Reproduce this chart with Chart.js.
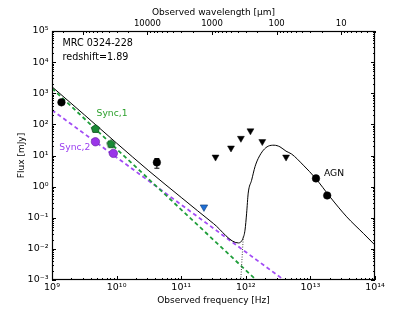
<!DOCTYPE html>
<html><head><meta charset="utf-8">
<script src="https://cdn.jsdelivr.net/npm/chart.js@4/dist/chart.umd.min.js"></script>
<style>html,body{margin:0;padding:0;background:#fff}</style>
</head><body>
<canvas id="c" width="416" height="312" style="width:416px;height:312px;display:block"></canvas>
<script>
// ---- data ----
const xTickValues = [1e9, 1e10, 1e11, 1e12, 1e13, 1e14];
const yTickValues = [1e-3, 1e-2, 1e-1, 1e0, 1e1, 1e2, 1e3, 1e4, 1e5];
const wavelengthTicks = [10000, 1000, 100, 10];
const C_UM_HZ = 2.998e14;

const totalFreq = [1e9, 3.16e9, 1e10, 3.16e10, 1e11, 3.16e11, 7.66e11, 9.06e11, 9.72e11, 1.03e12, 1.09e12, 1.23e12, 1.39e12, 1.56e12, 1.87e12, 2.23e12, 2.74e12, 3.38e12, 4.19e12, 5.13e12, 7.76e12, 1.21e13, 2.01e13, 3.65e13, 6.59e13, 1e14];
const totalFlux = [1620, 204, 25, 3.2, 0.45, 0.065, 0.0155, 0.022, 0.040, 0.14, 0.62, 1.6, 4.4, 8.1, 14.8, 20, 21.4, 19, 13.8, 11.1, 4.9, 1.82, 0.47, 0.107, 0.0316, 0.0132];
const sync1Freq = [1e9, 1.45e12];
const sync1Flux = [1445, 1e-3];
const sync2Freq = [1e9, 3.9e12];
const sync2Flux = [288, 1e-3];
const agnTailFreq = [8.36e11, 9.16e11];
const agnTailFlux = [1e-3, 0.0257];

const blackFreq = [1.4e9, 4.2e10, 1.22e13, 1.82e13];
const blackFlux = [510, 6.0, 1.84, 0.52];
const errFreq = [4.2e10, 4.2e10];
const errFlux = [3.9, 8.0];
const sync1PtsFreq = [4.7e9, 8.2e9];
const sync1PtsFlux = [74, 24];
const sync2PtsFreq = [4.7e9, 8.9e9];
const sync2PtsFlux = [27.6, 11.7];
const blueLimFreq = [2.25e11];
const blueLimFlux = [0.22];
const limitFreq = [3.4e11, 5.9e11, 8.4e11, 1.18e12, 1.8e12, 4.2e12];
const limitFlux = [8.9, 17.4, 35.6, 62, 28, 8.9];

const GREEN = '#1f9e3a', GREEN_PT = '#1a8a36', PURPLE = '#a24cf5', PURPLE_PT = '#9a35e8';
const FONT = '"DejaVu Sans", sans-serif';
Chart.defaults.font.family = FONT;

const pts = (xs, ys) => xs.map((v, i) => ({x: v, y: ys[i]}));
const SUP = {'0':'⁰','1':'¹','2':'²','3':'³','4':'⁴','5':'⁵','6':'⁶','7':'⁷','8':'⁸','9':'⁹','-':'⁻'};
const pow10Label = v => '10' + String(Math.round(Math.log10(v))).split('').map(c => SUP[c]).join('');

// pentagon marker
const pent = document.createElement('canvas');
pent.width = 11; pent.height = 11;
(() => {
  const g = pent.getContext('2d');
  g.beginPath();
  for (let i = 0; i < 5; i++) {
    const a = -Math.PI / 2 + i * 2 * Math.PI / 5;
    const px = 5.5 + 4.4 * Math.cos(a), py = 5.9 + 4.4 * Math.sin(a);
    i ? g.lineTo(px, py) : g.moveTo(px, py);
  }
  g.closePath();
  g.fillStyle = GREEN_PT; g.fill();
  g.strokeStyle = '#0c4a1c'; g.lineWidth = 0.8; g.stroke();
})();

const frameTicks = {
  id: 'frameTicks',
  afterDraw(chart) {
    const {ctx, chartArea: a, scales: {x, y}} = chart;
    ctx.save();
    ctx.strokeStyle = '#000';
    ctx.lineWidth = 1;
    const seg = (x1, y1, x2, y2) => { ctx.beginPath(); ctx.moveTo(x1, y1); ctx.lineTo(x2, y2); ctx.stroke(); };
    for (let d = 9; d <= 14; d++) for (let m = 1; m <= 9; m++) {
      const v = m * Math.pow(10, d);
      if (v < 1e9 || v > 1e14) continue;
      const px = Math.round(x.getPixelForValue(v)) + 0.5;
      seg(px, a.bottom, px, a.bottom - (m === 1 ? 4 : 2));
    }
    for (let k = 0; k <= 6; k++) for (let m = 1; m <= 9; m++) {
      const v = C_UM_HZ / (m * Math.pow(10, k));
      if (v < 1e9 || v > 1e14) continue;
      const px = Math.round(x.getPixelForValue(v)) + 0.5;
      seg(px, a.top, px, a.top + (m === 1 ? 4 : 2));
    }
    for (let d = -3; d <= 5; d++) for (let m = 1; m <= 9; m++) {
      const v = m * Math.pow(10, d);
      if (v < 1e-3 || v > 1e5) continue;
      const py = Math.round(y.getPixelForValue(v)) + 0.5;
      const L = m === 1 ? 4 : 2;
      seg(a.left, py, a.left + L, py);
      seg(a.right, py, a.right - L, py);
    }
    ctx.lineWidth = 1.2;
    ctx.strokeRect(Math.round(a.left) + 0.5, Math.round(a.top) + 0.5, Math.round(a.right - a.left) - 1, Math.round(a.bottom - a.top) - 1);
    ctx.restore();
  }
};

const annot = {
  id: 'annot',
  afterDatasetsDraw(chart) {
    const {ctx, chartArea: a, scales: {x, y}} = chart;
    ctx.save();
    ctx.textBaseline = 'middle'; ctx.textAlign = 'left';
    ctx.font = '9.6px ' + FONT;
    ctx.fillStyle = '#000';
    ctx.fillText('MRC 0324-228', a.left + 10.5, a.top + 12.3);
    ctx.fillText('redshift=1.89', a.left + 10.5, a.top + 26.3);
    ctx.font = '9.2px ' + FONT;
    ctx.fillStyle = '#2ca02c';
    ctx.fillText('Sync,1', x.getPixelForValue(4.9e9), y.getPixelForValue(214));
    ctx.fillStyle = '#9b3ef0';
    ctx.fillText('Sync,2', x.getPixelForValue(1.3e9), y.getPixelForValue(18.2));
    ctx.fillStyle = '#000';
    ctx.fillText('AGN', x.getPixelForValue(1.62e13), y.getPixelForValue(2.65));
    ctx.restore();
  }
};

const powFont = {size: 9.5, family: FONT};
const wlFont = {size: 8.5, family: FONT};
const titleFont = {size: 9, family: FONT};

new Chart(document.getElementById('c'), {
  type: 'scatter',
  data: {
    datasets: [
      {data: pts(limitFreq, limitFlux), pointStyle: 'triangle', rotation: 180, radius: 4, backgroundColor: '#000', borderColor: '#000', borderWidth: 0.5, showLine: false},
      {data: pts(blueLimFreq, blueLimFlux), pointStyle: 'triangle', rotation: 180, radius: 4.3, backgroundColor: '#1f6fd6', borderColor: '#103a70', borderWidth: 0.6, showLine: false},
      {data: pts(blackFreq, blackFlux), pointStyle: 'circle', radius: 3.8, backgroundColor: '#000', borderColor: '#000', borderWidth: 0.5, showLine: false},
      {data: pts(errFreq, errFlux), pointStyle: 'line', radius: 2.5, borderColor: '#000', borderWidth: 1, showLine: true, pointBorderWidth: 1},
      {data: pts(sync1PtsFreq, sync1PtsFlux), pointStyle: pent, radius: 4.5, showLine: false},
      {data: pts(sync2PtsFreq, sync2PtsFlux), pointStyle: 'circle', radius: 4.2, backgroundColor: PURPLE_PT, borderColor: '#5c1a9a', borderWidth: 0.6, showLine: false},
      {data: pts(totalFreq, totalFlux), showLine: true, borderColor: '#000', borderWidth: 1, pointRadius: 0, cubicInterpolationMode: 'monotone'},
      {data: pts(agnTailFreq, agnTailFlux), showLine: true, borderColor: '#444', borderWidth: 1, borderDash: [1, 1.5], pointRadius: 0},
      {data: pts(sync1Freq, sync1Flux), showLine: true, borderColor: GREEN, borderWidth: 1.8, borderDash: [4, 3], pointRadius: 0},
      {data: pts(sync2Freq, sync2Flux), showLine: true, borderColor: PURPLE, borderWidth: 1.8, borderDash: [4, 3], pointRadius: 0}
    ]
  },
  options: {
    responsive: false,
    animation: false,
    layout: {padding: {left: 0, right: 41, top: 0, bottom: 0}},
    plugins: {legend: {display: false}, tooltip: {enabled: false}},
    scales: {
      x: {
        type: 'logarithmic', position: 'bottom', min: 1e9, max: 1e14,
        afterBuildTicks: s => { s.ticks = xTickValues.map(v => ({value: v})); },
        afterFit: s => { s.height = 32; },
        ticks: {callback: v => pow10Label(v), font: powFont, color: '#000', padding: 2, maxRotation: 0, autoSkip: false},
        grid: {display: false, drawTicks: false}, border: {display: false},
        title: {display: true, text: 'Observed frequency [Hz]', font: titleFont, color: '#000', padding: {top: 0, bottom: 5.6}}
      },
      x2: {
        type: 'logarithmic', position: 'top', min: 1e9, max: 1e14,
        afterBuildTicks: s => { s.ticks = wavelengthTicks.map(w => ({value: C_UM_HZ / w})); },
        afterFit: s => { s.height = 31; },
        ticks: {callback: (v, i) => String(wavelengthTicks[i]), font: wlFont, color: '#000', padding: 2.6, maxRotation: 0, autoSkip: false},
        grid: {display: false, drawTicks: false}, border: {display: false},
        title: {display: true, text: 'Observed wavelength [μm]', font: titleFont, color: '#000', padding: {top: 7.6, bottom: 0}}
      },
      y: {
        type: 'logarithmic', position: 'left', min: 1e-3, max: 1e5,
        afterBuildTicks: s => { s.ticks = yTickValues.map(v => ({value: v})); },
        afterFit: s => { s.width = 52; },
        ticks: {callback: v => pow10Label(v), font: powFont, color: '#000', padding: 3.5, autoSkip: false},
        grid: {display: false, drawTicks: false}, border: {display: false},
        title: {display: true, text: 'Flux [mJy]', font: titleFont, color: '#000', padding: {top: 16, bottom: 0}}
      }
    }
  },
  plugins: [annot, frameTicks]
});
</script>
</body></html>
